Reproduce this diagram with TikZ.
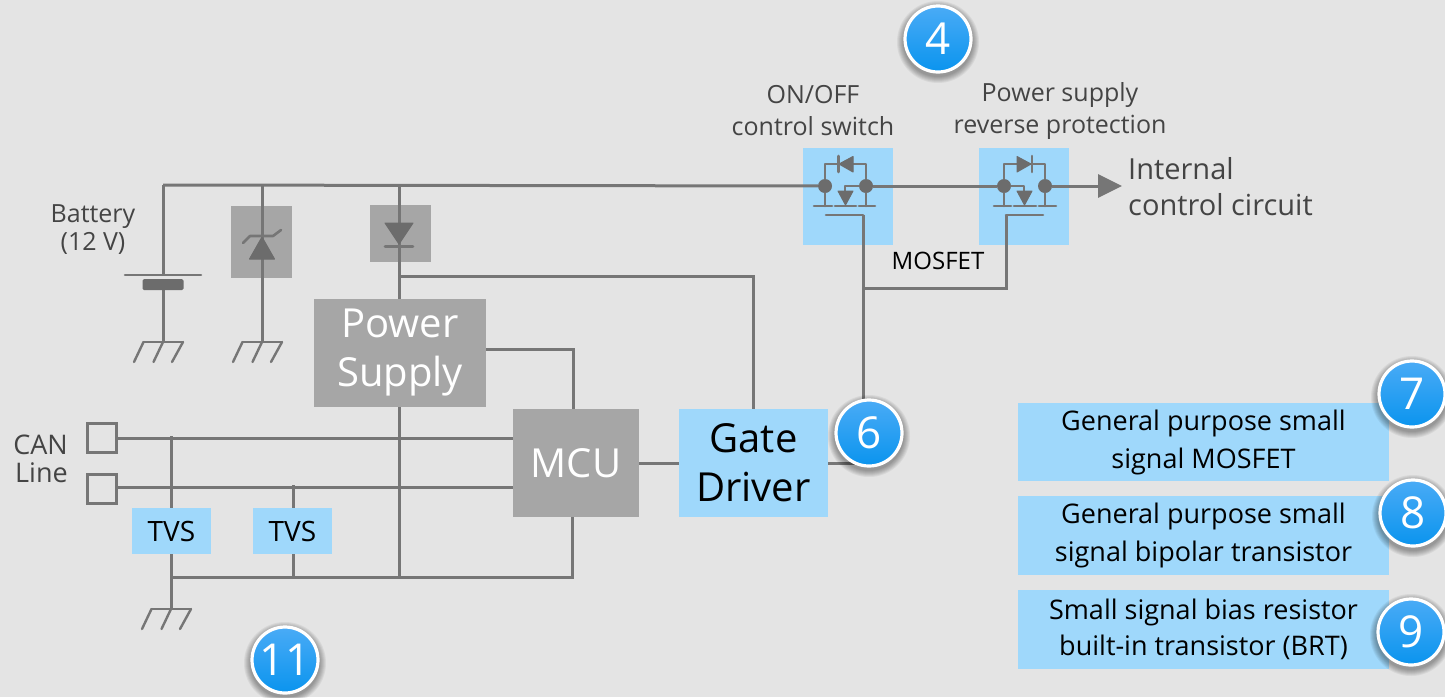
\documentclass[tikz,border=0pt]{standalone}
\usepackage{fontspec}
\setmainfont{Open Sans}
\usetikzlibrary{arrows.meta}
\definecolor{bgc}{HTML}{E4E4E4}
\definecolor{wire}{HTML}{767676}
\definecolor{dark}{HTML}{6C6C6C}
\definecolor{cblue}{HTML}{9FD8FB}
\definecolor{cgray}{HTML}{A6A6A6}
\definecolor{txt}{HTML}{444444}
\definecolor{btop}{HTML}{4AABF6}
\definecolor{bbot}{HTML}{0A94EE}
\newcommand{\fsz}[2]{\fontsize{#1pt}{#2pt}\selectfont}
\tikzset{
  wireline/.style={draw=wire,line width=3pt},
  thinw/.style={draw=wire,line width=2.6pt,line cap=round,line join=round},
  sym/.style={fill=dark,draw=dark,line width=1pt,line join=round},
  bluebox/.style={rectangle,fill=cblue,inner sep=0pt,align=center,text=black},
  graybox/.style={rectangle,fill=cgray,inner sep=0pt,align=center,text=white},
  label/.style={inner sep=0pt,align=center,text=txt},
  dot/.style={circle,fill=dark,inner sep=0pt,minimum size=14pt},
  badge/.style={circle,inner sep=0pt,minimum size=66pt,draw=white,line width=3.2pt,
    top color=btop,bottom color=bbot,text=white,font=\fsz{44}{44}},
  ground/.pic={
    \draw[thinw,line width=2.4pt] (-19.5,0)--(20,0);
    \draw[thinw,line width=2.4pt] (-19.5,0)--(-29,20) (0,0)--(-9.5,20) (20,0)--(9,20);
  }
}
\newcommand{\shadowat}[2]{%
  \foreach \rr in {41,40,39,38,37,36,35}{\fill[black,opacity=0.055] (#1,#2+3) circle[radius=\rr pt];}}
\begin{document}
\begin{tikzpicture}[x=1pt,y=-1pt]
\useasboundingbox (0,0) rectangle (1445,697);
\fill[bgc] (0,0) rectangle (1445,697);

% boxes behind the wiring
\node[bluebox,minimum width=90pt,minimum height=97pt] (q1box) at (848,196.5) {};
\node[bluebox,minimum width=90pt,minimum height=97pt] (q2box) at (1024,196.5) {};
\node[rectangle,fill=cgray,minimum width=61pt,minimum height=72pt,inner sep=0pt] (zbox) at (261.5,242) {};
\node[rectangle,fill=cgray,minimum width=61pt,minimum height=57pt,inner sep=0pt] (dbox) at (400.5,233.5) {};

% named junctions
\coordinate (batt) at (163,185);
\coordinate (zt) at (262,185);
\coordinate (dt) at (399,185);
\coordinate (arrowEnd) at (1122,186);
\coordinate (battP) at (163,275);
\coordinate (battN) at (163,290);
\coordinate (g1) at (163,342);
\coordinate (g2) at (262,342);
\coordinate (g3) at (171,609);
\coordinate (jd) at (399,276);
\coordinate (jg) at (863,288);
\coordinate (q1gate) at (863,215);
\coordinate (q2gate) at (1006,215);
\coordinate (j1) at (171,436);
\coordinate (j2) at (293,485);
\coordinate (jb1) at (171,577);
\coordinate (jb2) at (293,577);
\coordinate (jb3) at (399,577);
\coordinate (jb4) at (572,577);
\coordinate (psuR) at (486,349);
\coordinate (mcuT) at (573,409);
\coordinate (mcuL1) at (513,438);
\coordinate (mcuL2) at (513,487);

% block nodes
\node[graybox,minimum width=172pt,minimum height=108pt,font=\fsz{40}{49}] (psu) at (400,353) {Power\\Supply};
\node[graybox,minimum width=126pt,minimum height=108pt,font=\fsz{40}{48}] (mcu) at (576,463) {MCU};
\node[bluebox,minimum width=149pt,minimum height=108pt,font=\fsz{40}{49}] (gd) at (753.5,463) {Gate\\Driver};
\node[bluebox,minimum width=79pt,minimum height=46pt,font=\fsz{28}{30}] (tvs1) at (171.5,531) {TVS};
\node[bluebox,minimum width=79pt,minimum height=46pt,font=\fsz{28}{30}] (tvs2) at (292.5,531) {TVS};
\node[rectangle,draw=wire,line width=3pt,minimum width=29pt,minimum height=29pt,inner sep=0pt] (can1) at (101.5,437.5) {};
\node[rectangle,draw=wire,line width=3pt,minimum width=29pt,minimum height=29pt,inner sep=0pt] (can2) at (101.5,488.5) {};

% MOSFET terminals
\node[dot] (q1s) at (825,186) {};
\node[dot] (q1d) at (866,186) {};
\node[dot] (q2s) at (1004,186) {};
\node[dot] (q2d) at (1045,186) {};

% main wiring
\draw[wireline] (batt) -- (q1s);
\draw[wireline] (q1d) -- (q2s);
\draw[wireline] (batt) -- (battP);
\draw[wireline] (battN) -- (g1);
\draw[wireline] (zt) -- (g2);
\draw[wireline] (dt) -- (psu.north -| dt);
\draw[wireline] (jd) -| (gd.north);
\draw[wireline] (psuR) -| (mcuT);
\draw[wireline] (can1.east |- mcuL1) -- (mcuL1);
\draw[wireline] (can2.east |- mcuL2) -- (mcuL2);
\draw[wireline] (j1) -- (tvs1.north -| j1);
\draw[wireline] (j2) -- (tvs2.north -| j2);
\draw[wireline] (tvs1.south -| j1) -- (g3);
\draw[wireline] (tvs2.south -| j2) -- (jb2);
\draw[wireline] (psu.south -| jb3) -- (jb3);
\draw[wireline] (jb1) -- (jb4) -- (mcu.south -| jb4);
\draw[wireline] (mcu.east) -- (gd.west);
\draw[wireline] (q1gate) -- (gd.north -| q1gate);
\draw[wireline] (jg) -| (q2gate);
\draw[wireline,-{Triangle[length=24pt,width=23pt]}] (q2d) -- (arrowEnd);
\draw[wireline] (gd.east) -- (869,463);

% battery
\draw[thinw] (125,275) -- (201,275);
\node[rectangle,fill=dark,minimum width=41pt,minimum height=11pt,inner sep=0pt,rounded corners=1.5pt] (bplate) at (163,284.5) {};
\pic at (g1) {ground};
\pic at (g2) {ground};
\pic at (g3) {ground};

% zener
\draw[sym] (262,237) -- (274.5,259) -- (249.5,259) -- cycle;
\draw[thinw] (243,243) -- (250,236) -- (273,236) -- (281,230);
% diode
\draw[sym] (385,223) -- (413,223) -- (399,244) -- cycle;
\draw[thinw] (385,246.5) -- (413,246.5);

% Q1
\draw[thinw] (q1s) |- (q1d |- 0,164) -- (q1d);
\draw[sym] (853,156.5) -- (853,172) -- (839,164) -- cycle;
\draw[thinw] (838.5,156) -- (838.5,172);
\draw[thinw] (q1s) -- (825,206) (q1d) -- (866,206);
\draw[thinw] (814,206) -- (832,206) (835,206) -- (856,206) (859,206) -- (875,206);
\draw[thinw] (q1d) -- (845,186) -- (845,192);
\draw[sym] (838,191) -- (853,191) -- (845.5,205) -- cycle;
\draw[thinw] (826,215) -- (q1gate);
% Q2
\draw[thinw] (q2s) |- (q2d |- 0,164) -- (q2d);
\draw[sym] (1017,156.5) -- (1017,172) -- (1031,164) -- cycle;
\draw[thinw] (1032,156) -- (1032,172);
\draw[thinw] (q2s) -- (1004,206) (q2d) -- (1045,206);
\draw[thinw] (994,206) -- (1011,206) (1014,206) -- (1036,206) (1039,206) -- (1056,206);
\draw[thinw] (q2s) -- (1024,186) -- (1024,192);
\draw[sym] (1017,191) -- (1032,191) -- (1024.5,205) -- cycle;
\draw[thinw] (q2gate) -- (1043,215);

% texts
\node[label,font=\fsz{25}{32}] (t1) at (813,111) {ON/OFF\\control switch};
\node[label,font=\fsz{25}{32}] (t2) at (1060,111) {Power supply\\reverse protection};
\node[label,font=\fsz{29}{36},align=left,anchor=west] (t3) at (1128,187) {Internal\\control circuit};
\node[label,font=\fsz{25}{28}] (t4) at (93,230) {Battery\\(12 V)};
\node[label,font=\fsz{27}{28},align=right,anchor=east] (t5) at (68,459) {CAN\\Line};
\node[inner sep=0pt,text=black,font=\fsz{24}{28}] (t6) at (938,261) {MOSFET};

% right legend
\node[bluebox,minimum width=371pt,minimum height=78pt,font=\fsz{27}{38}] (l7) at (1203.5,442) {General purpose small\\signal MOSFET};
\node[bluebox,minimum width=371pt,minimum height=79pt,font=\fsz{27}{38}] (l8) at (1203.5,535.5) {General purpose small\\signal bipolar transistor};
\node[bluebox,minimum width=371pt,minimum height=79pt,font=\fsz{27}{36}] (l9) at (1203.5,629.5) {Small signal bias resistor\\built-in transistor (BRT)};

% badges
\shadowat{938}{39}\node[badge] (b4) at (938,39) {4};
\shadowat{869}{433}\node[badge] (b6) at (869,433) {6};
\shadowat{285}{660}\node[badge] (b11) at (285,660) {11};
\shadowat{1412}{394}\node[badge] (b7) at (1412,394) {7};
\shadowat{1413}{513}\node[badge] (b8) at (1413,513) {8};
\shadowat{1411}{632}\node[badge] (b9) at (1411,632) {9};
\end{tikzpicture}
\end{document}
